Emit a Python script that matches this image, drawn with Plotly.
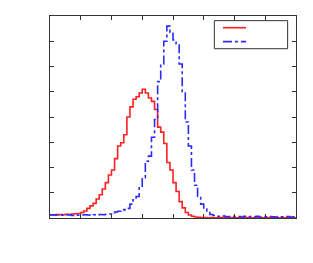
import plotly.graph_objects as go

bin_edges = [round(0.1 * i, 1) for i in range(81)]

red_values = [0.12, 0.13, 0.12, 0.14, 0.13, 0.15, 0.14, 0.16, 0.17, 0.18,
              0.22, 0.28, 0.38, 0.48, 0.58, 0.75, 0.92, 1.15, 1.40, 1.70,
              1.90, 2.35, 2.85, 2.98, 3.30, 4.00, 4.40, 4.70, 4.80, 4.95,
              5.10, 4.95, 4.75, 4.62, 4.30, 3.60, 3.40, 2.95, 2.20, 1.90,
              1.40, 1.05, 0.65, 0.40, 0.22, 0.12, 0.07, 0.04, 0.03, 0.02,
              0.02, 0.01, 0.02, 0.01, 0.01, 0.02, 0.01, 0.01, 0.01, 0.02,
              0.01, 0.01, 0.01, 0.01, 0.02, 0.01, 0.01, 0.01, 0.01, 0.01,
              0.01, 0.02, 0.01, 0.01, 0.01, 0.01, 0.01, 0.01, 0.01, 0.01]

blue_values = [0.13, 0.12, 0.14, 0.12, 0.11, 0.13, 0.12, 0.10, 0.12, 0.11,
               0.12, 0.13, 0.12, 0.11, 0.13, 0.12, 0.14, 0.13, 0.15, 0.16,
               0.20, 0.24, 0.27, 0.30, 0.33, 0.38, 0.55, 0.72, 0.85, 1.20,
               1.60, 2.25, 2.45, 3.20, 3.90, 5.40, 6.10, 7.00, 7.60, 7.35,
               7.05, 6.90, 6.10, 5.00, 3.80, 2.85, 1.90, 1.30, 0.85, 0.55,
               0.35, 0.22, 0.14, 0.10, 0.07, 0.06, 0.08, 0.05, 0.06, 0.07,
               0.05, 0.06, 0.04, 0.07, 0.05, 0.06, 0.05, 0.07, 0.04, 0.06,
               0.05, 0.06, 0.05, 0.04, 0.06, 0.05, 0.05, 0.06, 0.04, 0.05]

x_ticks = [0, 1, 2, 3, 4, 5, 6, 7, 8]
y_ticks = [0, 1, 2, 3, 4, 5, 6, 7, 8]

RED = "#ff2020"
BLUE = "#2a2aff"
FRAME = "#333333"

fig = go.Figure()
fig.add_trace(go.Scatter(
    x=bin_edges, y=red_values + [red_values[-1]],
    mode="lines", line=dict(color=RED, width=1.6, shape="hv"),
    showlegend=False,
))
fig.add_trace(go.Scatter(
    x=bin_edges, y=blue_values + [blue_values[-1]],
    mode="lines", line=dict(color=BLUE, width=1.6, shape="hv", dash="dashdot"),
    showlegend=False,
))

axis_common = dict(
    showgrid=False, zeroline=False, showline=True, mirror="ticks",
    linecolor=FRAME, linewidth=1, ticks="inside", ticklen=4,
    tickcolor=FRAME, showticklabels=False,
)
fig.update_xaxes(range=[0, 8], tickvals=x_ticks, **axis_common)
fig.update_yaxes(range=[0, 8], tickvals=y_ticks, **axis_common)

# legend box drawn as shapes (paper coordinates)
fig.add_shape(type="rect", xref="paper", yref="paper",
              x0=0.668, x1=0.966, y0=0.838, y1=0.977,
              line=dict(color=FRAME, width=1), fillcolor="white", layer="above")
fig.add_shape(type="line", xref="paper", yref="paper",
              x0=0.703, x1=0.797, y0=0.942, y1=0.942,
              line=dict(color=RED, width=1.6), layer="above")
fig.add_shape(type="line", xref="paper", yref="paper",
              x0=0.703, x1=0.797, y0=0.873, y1=0.873,
              line=dict(color=BLUE, width=1.6, dash="dashdot"), layer="above")

fig.update_layout(
    width=305, height=255,
    margin=dict(l=42, r=17, t=8, b=45),
    paper_bgcolor="white", plot_bgcolor="white",
    showlegend=False,
)

fig.write_html("out.html")
